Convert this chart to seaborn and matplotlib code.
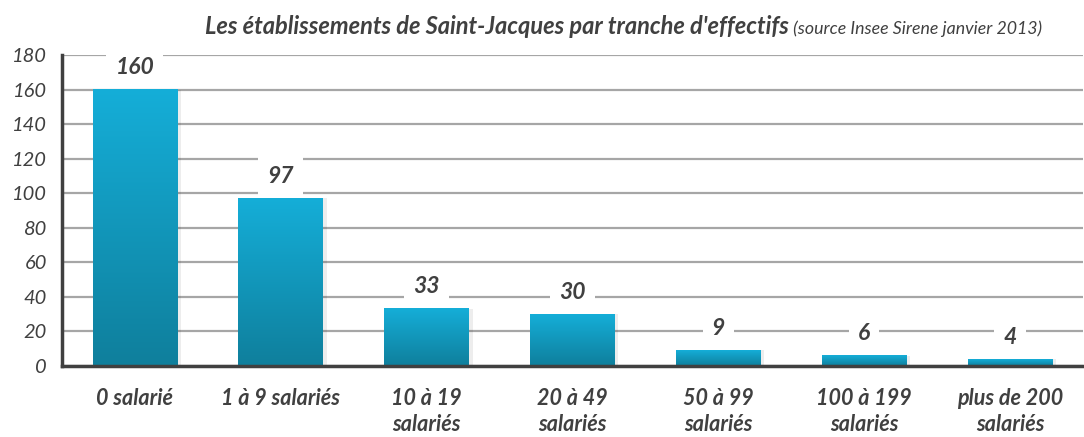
import numpy as np
import pandas as pd
import matplotlib
matplotlib.use("Agg")
import matplotlib.pyplot as plt
import seaborn as sns
from matplotlib.colors import LinearSegmentedColormap

categories = ["0 salarié", "1 à 9 salariés", "10 à 19\nsalariés", "20 à 49\nsalariés",
              "50 à 99\nsalariés", "100 à 199\nsalariés", "plus de 200\nsalariés"]
values = [160, 97, 33, 30, 9, 6, 4]
y_ticks = [0, 20, 40, 60, 80, 100, 120, 140, 160, 180]
title_main = "Les établissements de Saint-Jacques par tranche d'effectifs"
title_src = " (source Insee Sirene janvier 2013)"

sns.set_style("white")
plt.rcParams['font.family'] = ['Lato', 'DejaVu Sans']

df = pd.DataFrame({"cat": categories, "val": values})

fig = plt.figure(figsize=(10.84, 4.37), dpi=100)
ax = fig.add_axes([62/1084, 1-366/437, 1-62/1084-0.001, (366-55)/437])

sns.barplot(data=df, x="cat", y="val", ax=ax, width=0.58, color="#15ADD6",
            saturation=1, edgecolor="none", zorder=3)

ax.set_ylim(0, 180)
ax.set_xlim(-0.5, len(categories) - 0.5)
ax.set_yticks(y_ticks)
ax.yaxis.grid(True, color="#A6A6A6", linewidth=1.6, zorder=0)
ax.set_axisbelow(True)

# gradient fill on bars
cmap = LinearSegmentedColormap.from_list("g", ["#0F7F9C", "#15AED8"])
grad = np.linspace(0, 1, 256).reshape(-1, 1)
for p in ax.patches[:len(values)]:
    x0, y0 = p.get_x(), p.get_y()
    w, h = p.get_width(), p.get_height()
    p.set_alpha(0)
    ax.add_patch(plt.Rectangle((x0 + 0.025, y0), w, h, color="#000000", alpha=0.07,
                               zorder=2.5, lw=0))
    ax.imshow(grad, extent=[x0, x0 + w, y0, y0 + h], origin="lower", cmap=cmap,
              aspect="auto", zorder=3.5, interpolation="bilinear")
ax.set_xlim(-0.5, len(categories) - 0.5)
ax.set_ylim(0, 180)

for x, v in enumerate(values):
    ax.annotate(str(v), (x, v),
                xytext=(0, 22), textcoords="offset pixels", ha="center", va="center",
                fontsize=16.5, fontweight="bold", fontstyle="italic", color="#404040",
                bbox=dict(boxstyle="square,pad=0.4", fc="white", ec="none"), zorder=5)

for s in ["top", "right"]:
    ax.spines[s].set_visible(False)
for s in ["left", "bottom"]:
    ax.spines[s].set_color("#404040")
    ax.spines[s].set_linewidth(2.5)
    ax.spines[s].set_zorder(6)

ax.set_xlabel("")
ax.set_ylabel("")
ax.set_xticks(range(len(categories)))
ax.set_xticklabels(categories, fontsize=15.5, fontweight="bold", fontstyle="italic",
                   color="#404040", linespacing=1.3)
ax.tick_params(axis="x", length=0, pad=16)
ax.set_xticks(np.arange(-0.5, len(categories) - 0.4, 1), minor=True)
ax.tick_params(axis="x", which="minor", length=7, width=2.5, color="#404040", direction="out")
ax.tick_params(axis="y", length=6, width=2.5, color="#404040", direction="out", pad=5,
               labelsize=14.5, labelcolor="#404040")
for t in ax.get_yticklabels():
    t.set_fontstyle("italic")

# title
t1 = fig.text(205/1084, 1 - 27/437, title_main, ha="left", va="center", fontsize=17,
              fontweight="bold", fontstyle="italic", color="#404040")
fig.canvas.draw()
bb = t1.get_window_extent()
fig.text(bb.x1 / fig.bbox.width, 1 - 29/437, title_src, ha="left", va="center",
         fontsize=12.8, fontstyle="italic", color="#404040")

fig.savefig("out.png", dpi=100)
